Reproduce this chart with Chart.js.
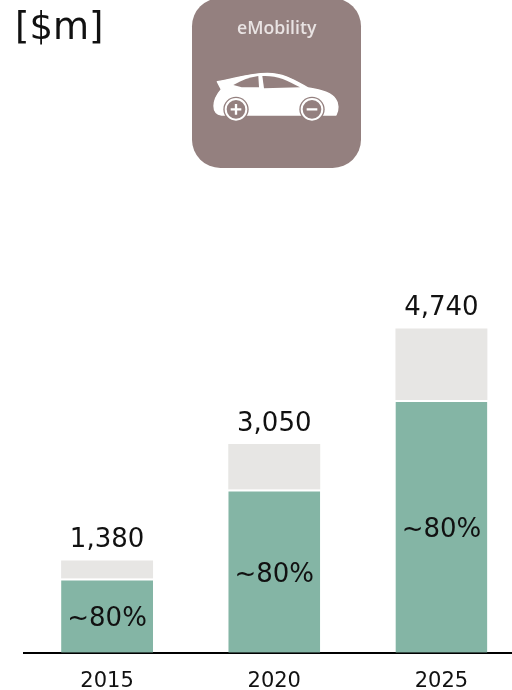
<!DOCTYPE html>
<html>
<head>
<meta charset="utf-8">
<title>eMobility</title>
<script src="https://cdn.jsdelivr.net/npm/chart.js@4"></script>
<style>
    html, body { margin: 0; padding: 0; background: #fff; overflow: hidden; }
    #page { position: relative; width: 512px; height: 690px; overflow: hidden; }
    #unit { position: absolute; left: 15px; top: 5px; font: 37px "DejaVu Sans", sans-serif; color: #111; }
    #icon { position: absolute; left: 180px; top: 0; width: 190px; height: 175px; }
    canvas { position: absolute; left: 0; top: 0; }
</style>
</head>
<body>
<div id="page">
    <canvas id="barChart" width="525" height="706"></canvas>
    <div id="unit">[$m]</div>
    <svg id="icon" viewBox="0 0 570 525">
        <defs><filter id="soft"><feGaussianBlur stdDeviation="1.2"/></filter></defs>
        <g filter="url(#soft)">
            <rect x="36" y="-6" width="507" height="510" rx="85" fill="#94807f"/>
            <text x="290" y="103" text-anchor="middle" font-family="Open Sans" font-weight="600" font-size="53" fill="#e9e3e3">eMobility</text>
            <path fill="#fff" stroke="#fff" stroke-width="4" stroke-linejoin="round" d="M102 318 C102 298 112 282 124 268 L112 245 C160 238 205 220 262 220 C312 220 345 242 385 264 C425 270 456 280 466 297 C476 310 476 330 468 345 L125 345 C110 343 102 335 102 318 Z"/>
            <path fill="#94807f" d="M160 255 C185 240 210 232 235 228 L237 262 L185 262 Z"/>
            <path fill="#94807f" d="M247 228 C290 226 320 240 360 262 L252 265 Z"/>
            <circle cx="168" cy="328" r="38" fill="#94807f"/>
            <circle cx="396" cy="328" r="38" fill="#94807f"/>
            <circle cx="168" cy="328" r="31" fill="none" stroke="#fff" stroke-width="6"/>
            <circle cx="396" cy="328" r="31" fill="none" stroke="#fff" stroke-width="6"/>
            <path stroke="#fff" stroke-width="7" d="M152 328 H184 M168 312 V344 M380 328 H412"/>
        </g>
    </svg>
</div>
<script>
const years = ['2015', '2020', '2025'];
const greenValues = [1085, 2385, 3695];
const greyValues = [265, 665, 1045];
const totalLabels = ['1,380', '3,050', '4,740'];
const shareLabels = ['~80%', '~80%', '~80%'];

// no datalabels plugin here, so the texts over the bars are drawn by hand
const barLabels = {
    id: 'barLabels',
    afterDatasetsDraw(chart) {
        const ctx = chart.ctx;
        const green = chart.getDatasetMeta(0).data;
        const grey = chart.getDatasetMeta(1).data;
        ctx.save();
        ctx.fillStyle = '#111';
        ctx.textAlign = 'center';
        ctx.textBaseline = 'middle';
        ctx.font = '26px "DejaVu Sans"';
        years.forEach((y, i) => {
            ctx.fillText(totalLabels[i], grey[i].x, grey[i].y - 20);
            ctx.fillText(shareLabels[i], green[i].x, (green[i].y + green[i].base) / 2 + 4);
        });
        ctx.restore();
    }
};

new Chart(document.getElementById('barChart'), {
    type: 'bar',
    data: {
        labels: years,
        datasets: [
            {
                data: greenValues,
                backgroundColor: '#84b5a5',
                borderColor: '#fff',
                borderWidth: {top: 2, left: 0, right: 0, bottom: 0},
                borderSkipped: false
            },
            {data: greyValues, backgroundColor: '#e7e6e4'}
        ]
    },
    options: {
        responsive: false,
        animation: false,
        layout: {padding: {left: 23.5, top: 0, right: 0, bottom: 4}},
        categoryPercentage: 1,
        barPercentage: 0.55,
        plugins: {legend: {display: false}, tooltip: {enabled: false}},
        scales: {
            x: {
                stacked: true,
                grid: {display: false},
                border: {color: '#000', width: 2},
                ticks: {color: '#111', padding: 8, font: {family: 'DejaVu Sans', size: 21}}
            },
            y: {stacked: true, display: false, min: 0, max: 9540}
        }
    },
    plugins: [barLabels]
});
</script>
</body>
</html>
